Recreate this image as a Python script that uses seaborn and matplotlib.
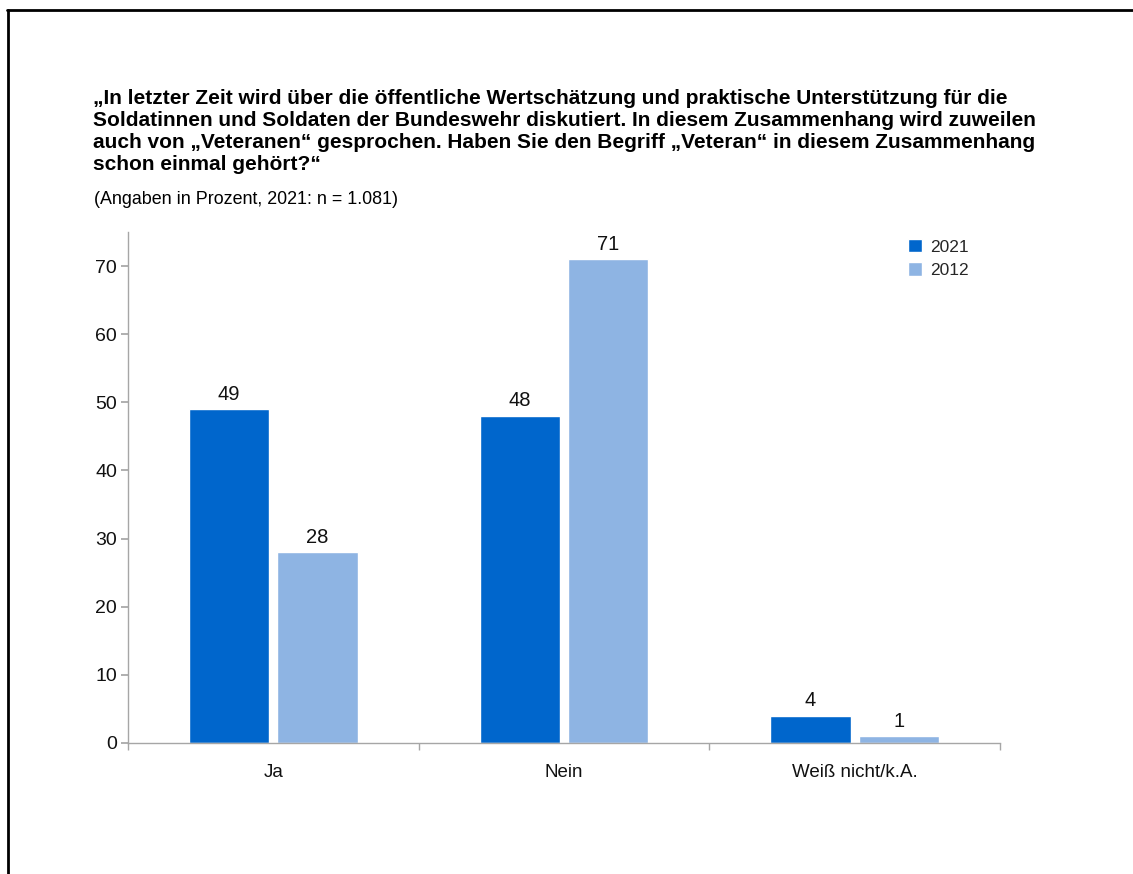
import matplotlib
matplotlib.use("Agg")
import matplotlib.pyplot as plt
from matplotlib.lines import Line2D
from matplotlib.patches import Patch
import seaborn as sns
import pandas as pd

# Daten
kategorien = ["Ja", "Nein", "Weiß nicht/k.A."]
jahre = ["2021", "2012"]
werte_2021 = [49, 48, 4]
werte_2012 = [28, 71, 1]
farben = {"2021": "#0066CC", "2012": "#8EB4E3"}

titel = ("„In letzter Zeit wird über die öffentliche Wertschätzung und praktische Unterstützung für die\n"
         "Soldatinnen und Soldaten der Bundeswehr diskutiert. In diesem Zusammenhang wird zuweilen\n"
         "auch von „Veteranen“ gesprochen. Haben Sie den Begriff „Veteran“ in diesem Zusammenhang\n"
         "schon einmal gehört?“")
untertitel = "(Angaben in Prozent, 2021: n = 1.081)"

df = pd.DataFrame({
    "Kategorie": kategorien * 2,
    "Jahr": ["2021"] * 3 + ["2012"] * 3,
    "Wert": werte_2021 + werte_2012,
})

sns.set_theme(style="white")
plt.rcParams["font.family"] = ["Liberation Sans", "DejaVu Sans"]

fig = plt.figure(figsize=(11.33, 8.74), dpi=100)
ax = fig.add_axes([0.113, 0.1499, 0.7696, 0.5847])

sns.barplot(data=df, x="Kategorie", y="Wert", hue="Jahr", hue_order=jahre,
            palette=farben, width=0.607, gap=0.09, saturation=1,
            order=kategorien, ax=ax, legend=False)

for container in ax.containers:
    ax.bar_label(container, fmt="%d", padding=4, fontsize=14.5, color="#111111")

ax.set_ylim(0, 75)
ax.set_xlim(-0.5, 2.5)
ax.set_yticks(range(0, 71, 10))
ax.set_xlabel("")
ax.set_ylabel("")

for s in ["top", "right"]:
    ax.spines[s].set_visible(False)
for s in ["left", "bottom"]:
    ax.spines[s].set_color("#A6A6A6")
    ax.spines[s].set_linewidth(1.0)

ax.tick_params(axis="y", which="major", direction="out", length=5, color="#A6A6A6",
               labelsize=14, labelcolor="#111111", pad=3, left=True)
ax.tick_params(axis="x", which="major", length=0, labelsize=13.5, labelcolor="#111111", pad=15)
ax.set_xticks([-0.5, 0.5, 1.5, 2.5], minor=True)
ax.tick_params(axis="x", which="minor", direction="out", length=5, color="#A6A6A6", bottom=True)

handles = [Patch(facecolor=farben[j], label=j) for j in jahre]
ax.legend(handles=handles, loc="upper left", bbox_to_anchor=(0.887, 1.0), frameon=False,
          fontsize=12.5, handlelength=0.8, handleheight=0.8, handletextpad=0.45,
          labelspacing=0.45, borderaxespad=0)

fig.text(0.082, 0.898, titel, fontsize=15, fontweight="bold", va="top", ha="left",
         linespacing=1.19, color="#000000")
fig.text(0.083, 0.781, untertitel, fontsize=12.9, va="top", ha="left", color="#000000")

# Rahmen
fig.add_artist(Line2D([0.006, 1.0], [0.988, 0.988], color="black", linewidth=2,
                      transform=fig.transFigure))
fig.add_artist(Line2D([0.007, 0.007], [0.0, 0.988], color="black", linewidth=2,
                      transform=fig.transFigure))

fig.savefig("out.png", dpi=100)
